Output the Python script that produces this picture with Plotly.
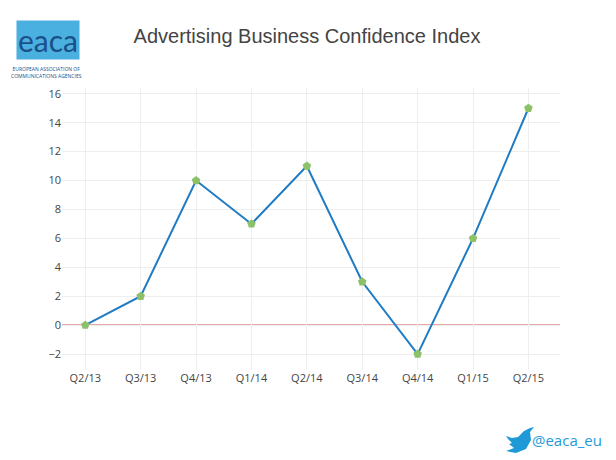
import plotly.graph_objects as go

quarters = ["Q2/13", "Q3/13", "Q4/13", "Q1/14", "Q2/14", "Q3/14", "Q4/14", "Q1/15", "Q2/15"]
index_values = [0, 2, 10, 7, 11, 3, -2, 6, 15]

OFF = 8  # page body margin
L, R, T, B = 62 - OFF, 64, 88 - OFF, 98
W, H = 616, 460
def px(x): return (x - OFF - L) / (W - L - R)
def py(y): return (H - B - (y - OFF)) / (H - T - B)

# simple bird silhouette (pixel coords in reference), drawn as a decorative path
bird_pts = [(506, 436), (512, 438), (518, 437), (524, 431), (530, 428), (534, 427),
            (530, 432), (531, 440), (526, 449), (516, 453), (506, 451), (514, 448),
            (509, 444), (512, 443), (508, 439)]
bird_path = "M " + " L ".join(f"{px(x):.4f},{py(y):.4f}" for x, y in bird_pts) + " Z"

fig = go.Figure()
fig.add_trace(go.Scatter(
    x=list(range(len(quarters))), y=index_values, mode="lines+markers",
    line=dict(color="#1f7bc4", width=2),
    marker=dict(symbol="pentagon", size=9, color="#8cc16a"),
    showlegend=False,
))
fig.add_hline(y=0, line=dict(color="#cc5550", width=1.3), layer="below")
fig.add_shape(type="path", path=bird_path, xref="paper", yref="paper",
              fillcolor="#1f9ad6", line=dict(width=0))

fig.update_layout(
    width=W, height=H,
    margin=dict(l=L, r=R, t=T, b=B),
    paper_bgcolor="white", plot_bgcolor="white",
    font=dict(family="Open Sans", color="#444", size=11),
    title=dict(text="Advertising Business Confidence Index", x=(307 - OFF) / W, xanchor="center",
               y=1 - (36 - OFF) / H, yanchor="middle", font=dict(size=20, color="#444", family="Liberation Sans")),
    xaxis=dict(tickvals=list(range(len(quarters))), ticktext=quarters,
               range=[-0.42, 8.57], showgrid=True, gridcolor="#eee", zeroline=False),
    yaxis=dict(range=[-3.1, 16.4], dtick=2, showgrid=True, gridcolor="#eee",
               zeroline=False),
    annotations=[
        dict(text="eaca", x=px(16), y=py(20), xref="paper", yref="paper", showarrow=False,
             xanchor="left", yanchor="top", font=dict(size=30, color="#1a4f8a", family="Lato"),
             bgcolor="#4ab0e0"),
        dict(text="EUROPEAN ASSOCIATION OF<br>COMMUNICATIONS AGENCIES", x=px(46), y=py(64),
             xref="paper", yref="paper", showarrow=False, xanchor="center", yanchor="top",
             align="center", font=dict(size=5, color="#1a4f8a")),
        dict(text="@eaca_eu", x=px(604), y=py(440), xref="paper", yref="paper",
             showarrow=False, xanchor="right", yanchor="middle",
             font=dict(size=15, color="#1f9ad6")),
    ],
)
fig.write_html("out.html")
